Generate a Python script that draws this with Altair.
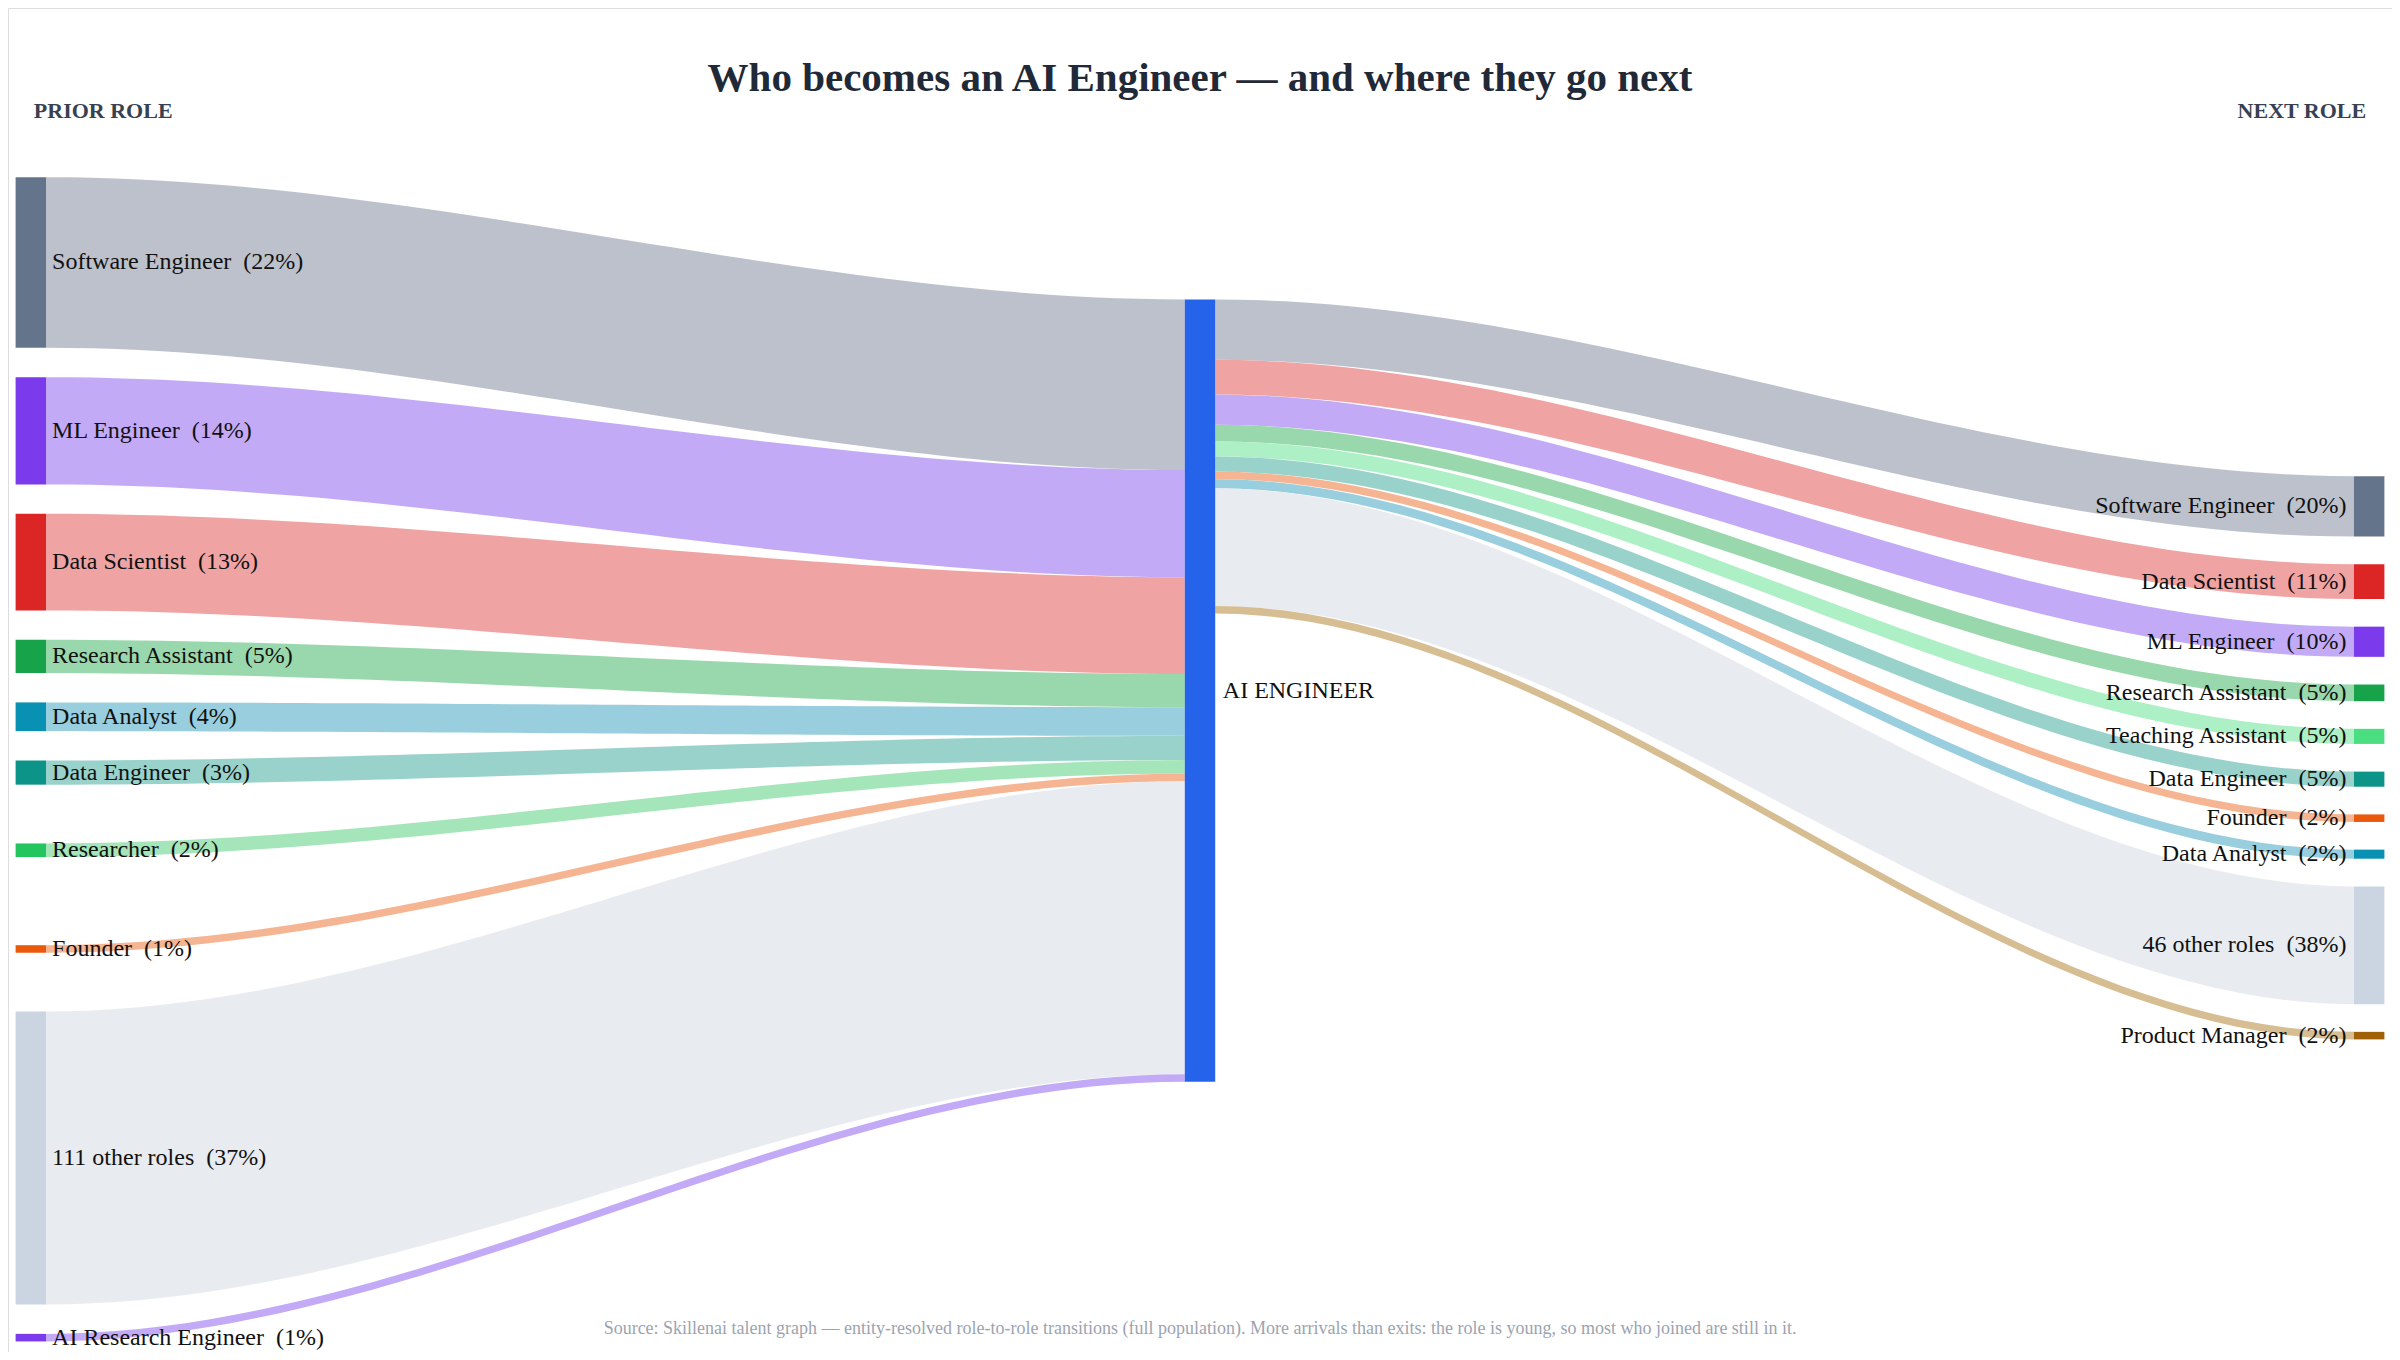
import altair as alt
import pandas as pd
import numpy as np

# ---- data ----
prior_roles = ["Software Engineer", "ML Engineer", "Data Scientist", "Research Assistant", "Data Analyst",
               "Data Engineer", "Researcher", "Founder", "111 other roles", "AI Research Engineer"]
prior_pct = [22, 14, 13, 5, 4, 3, 2, 1, 37, 1]
prior_val = [113, 71, 64, 22, 19, 16, 9, 5, 194, 5]
prior_col = ["#64748b", "#7c3aed", "#dc2626", "#16a34a", "#0891b2", "#0d9488", "#22c55e", "#ea580c", "#cbd5e1", "#7c3aed"]
prior_link = ["#b8bec9", "#c0a5f5", "#ef9e9e", "#94d6a8", "#92cbdb", "#92d0c8", "#9fe4b6", "#f5b18c", "#e7eaef", "#c0a5f5"]

next_roles = ["Software Engineer", "Data Scientist", "ML Engineer", "Research Assistant", "Teaching Assistant",
              "Data Engineer", "Founder", "Data Analyst", "46 other roles", "Product Manager"]
next_pct = [20, 11, 10, 5, 5, 5, 2, 2, 38, 2]
next_val = [40, 23, 20, 11, 10, 10, 5, 6, 78, 5]
next_col = ["#64748b", "#dc2626", "#7c3aed", "#16a34a", "#4ade80", "#0d9488", "#ea580c", "#0891b2", "#cbd5e1", "#a16207"]
next_link = ["#b8bec9", "#ef9e9e", "#c0a5f5", "#94d6a8", "#a9efc2", "#92d0c8", "#f5b18c", "#92cbdb", "#e7eaef", "#d5b98c"]

center_name = "AI ENGINEER"
center_col = "#2563eb"

# ---- layout (reference pixel space 1568 x 890) ----
W, H = 1568, 890
XL, XC, XR, NW = 5, 774, 1543, 20
LEFT_TOP, LEFT_BOT = 112, 883
RIGHT_TOP, RIGHT_BOT = 310, 683
C_TOP = 193
# relative gap weights between left nodes (plotly-like spacing)
LEFT_GAPS = [1, 1, 1, 1, 1, 2, 3, 2, 1]

def stack(vals, top, bot, weights=None):
    weights = weights or [1] * (len(vals) - 1)
    unit = (bot - top - sum(vals)) / sum(weights)
    ys, y = [], top
    for i, v in enumerate(vals):
        ys.append((y, y + v))
        if i < len(weights):
            y += v + unit * weights[i]
    return ys

lpos = stack(prior_val, LEFT_TOP, LEFT_BOT, LEFT_GAPS)
rpos = stack(next_val, RIGHT_TOP, RIGHT_BOT)
ctot = sum(prior_val)
SP = "\u00a0\u00a0"

nodes, labels, links = [], [], []
for n, p, v, c, (a, b) in zip(prior_roles, prior_pct, prior_val, prior_col, lpos):
    nodes.append(dict(x=XL, x2=XL + NW, y=a, y2=b, c=c))
    labels.append(dict(x=XL + NW + 4, y=(a + b) / 2, t=f"{n}{SP}({p}%)", al="left"))
nodes.append(dict(x=XC, x2=XC + NW, y=C_TOP, y2=C_TOP + ctot, c=center_col))
labels.append(dict(x=XC + NW + 5, y=C_TOP + ctot / 2, t=center_name, al="left"))
for n, p, v, c, (a, b) in zip(next_roles, next_pct, next_val, next_col, rpos):
    nodes.append(dict(x=XR, x2=XR + NW, y=a, y2=b, c=c))
    labels.append(dict(x=XR - 5, y=(a + b) / 2, t=f"{n}{SP}({p}%)", al="right"))

t = np.linspace(0, 1, 50)
s = 3 * t ** 2 - 2 * t ** 3
cy = C_TOP
for i, (v, lc, (a, b)) in enumerate(zip(prior_val, prior_link, lpos)):
    x0, x1 = XL + NW, XC
    for tt, ss in zip(t, s):
        links.append(dict(id=f"L{i}", x=x0 + (x1 - x0) * tt, y0=a + (cy - a) * ss, y1=b + (cy + v - b) * ss, c=lc))
    cy += v
cy = C_TOP
for i, (v, lc, (a, b)) in enumerate(zip(next_val, next_link, rpos)):
    x0, x1 = XC + NW, XR
    for tt, ss in zip(t, s):
        links.append(dict(id=f"R{i}", x=x0 + (x1 - x0) * tt, y0=cy + (a - cy) * ss, y1=cy + v + (b - cy - v) * ss, c=lc))
    cy += v

X = alt.Scale(domain=[0, W])
Y = alt.Scale(domain=[0, H], reverse=True)
FONT = "Liberation Serif"

link_layer = alt.Chart(pd.DataFrame(links)).mark_area(opacity=0.95).encode(
    x=alt.X("x:Q", scale=X, axis=None),
    y=alt.Y("y0:Q", scale=Y, axis=None, stack=None),
    y2="y1:Q",
    detail="id:N",
    color=alt.Color("c:N", scale=None),
)
node_layer = alt.Chart(pd.DataFrame(nodes)).mark_rect().encode(
    x=alt.X("x:Q", scale=X), x2="x2:Q", y=alt.Y("y:Q", scale=Y), y2="y2:Q",
    color=alt.Color("c:N", scale=None),
)
ldf = pd.DataFrame(labels)
lab_l = alt.Chart(ldf[ldf.al == "left"]).mark_text(align="left", baseline="middle", font=FONT, fontSize=24, color="#111").encode(
    x=alt.X("x:Q", scale=X), y=alt.Y("y:Q", scale=Y), text="t:N")
lab_r = alt.Chart(ldf[ldf.al == "right"]).mark_text(align="right", baseline="middle", font=FONT, fontSize=24, color="#111").encode(
    x=alt.X("x:Q", scale=X), y=alt.Y("y:Q", scale=Y), text="t:N")

ann = pd.DataFrame([
    dict(x=W / 2, y=47, t="Who becomes an AI Engineer — and where they go next", al="center", fs=41, fw="bold", c="#1f2937"),
    dict(x=17, y=68, t="PRIOR ROLE", al="left", fs=22, fw="bold", c="#374151"),
    dict(x=1551, y=68, t="NEXT ROLE", al="right", fs=22, fw="bold", c="#374151"),
    dict(x=784, y=875, t="Source: Skillenai talent graph — entity-resolved role-to-role transitions (full population). More arrivals than exits: the role is young, so most who joined are still in it.",
         al="center", fs=18, fw="normal", c="#9ca3af"),
])
ann_layers = []
for _, r in ann.iterrows():
    ann_layers.append(alt.Chart(pd.DataFrame([r])).mark_text(
        align=r.al, baseline="middle", font=FONT, fontSize=int(r.fs), fontWeight=r.fw, color=r.c).encode(
        x=alt.X("x:Q", scale=X), y=alt.Y("y:Q", scale=Y), text="t:N"))

chart = alt.layer(link_layer, node_layer, lab_l, lab_r, *ann_layers).properties(
    width=2384, height=1344, padding=0,
    autosize=alt.AutoSizeParams(type="fit", contains="padding"),
).configure_view(stroke=None).configure(background="white")

chart.save("out.html", embed_options={"renderer": "svg", "actions": False})
